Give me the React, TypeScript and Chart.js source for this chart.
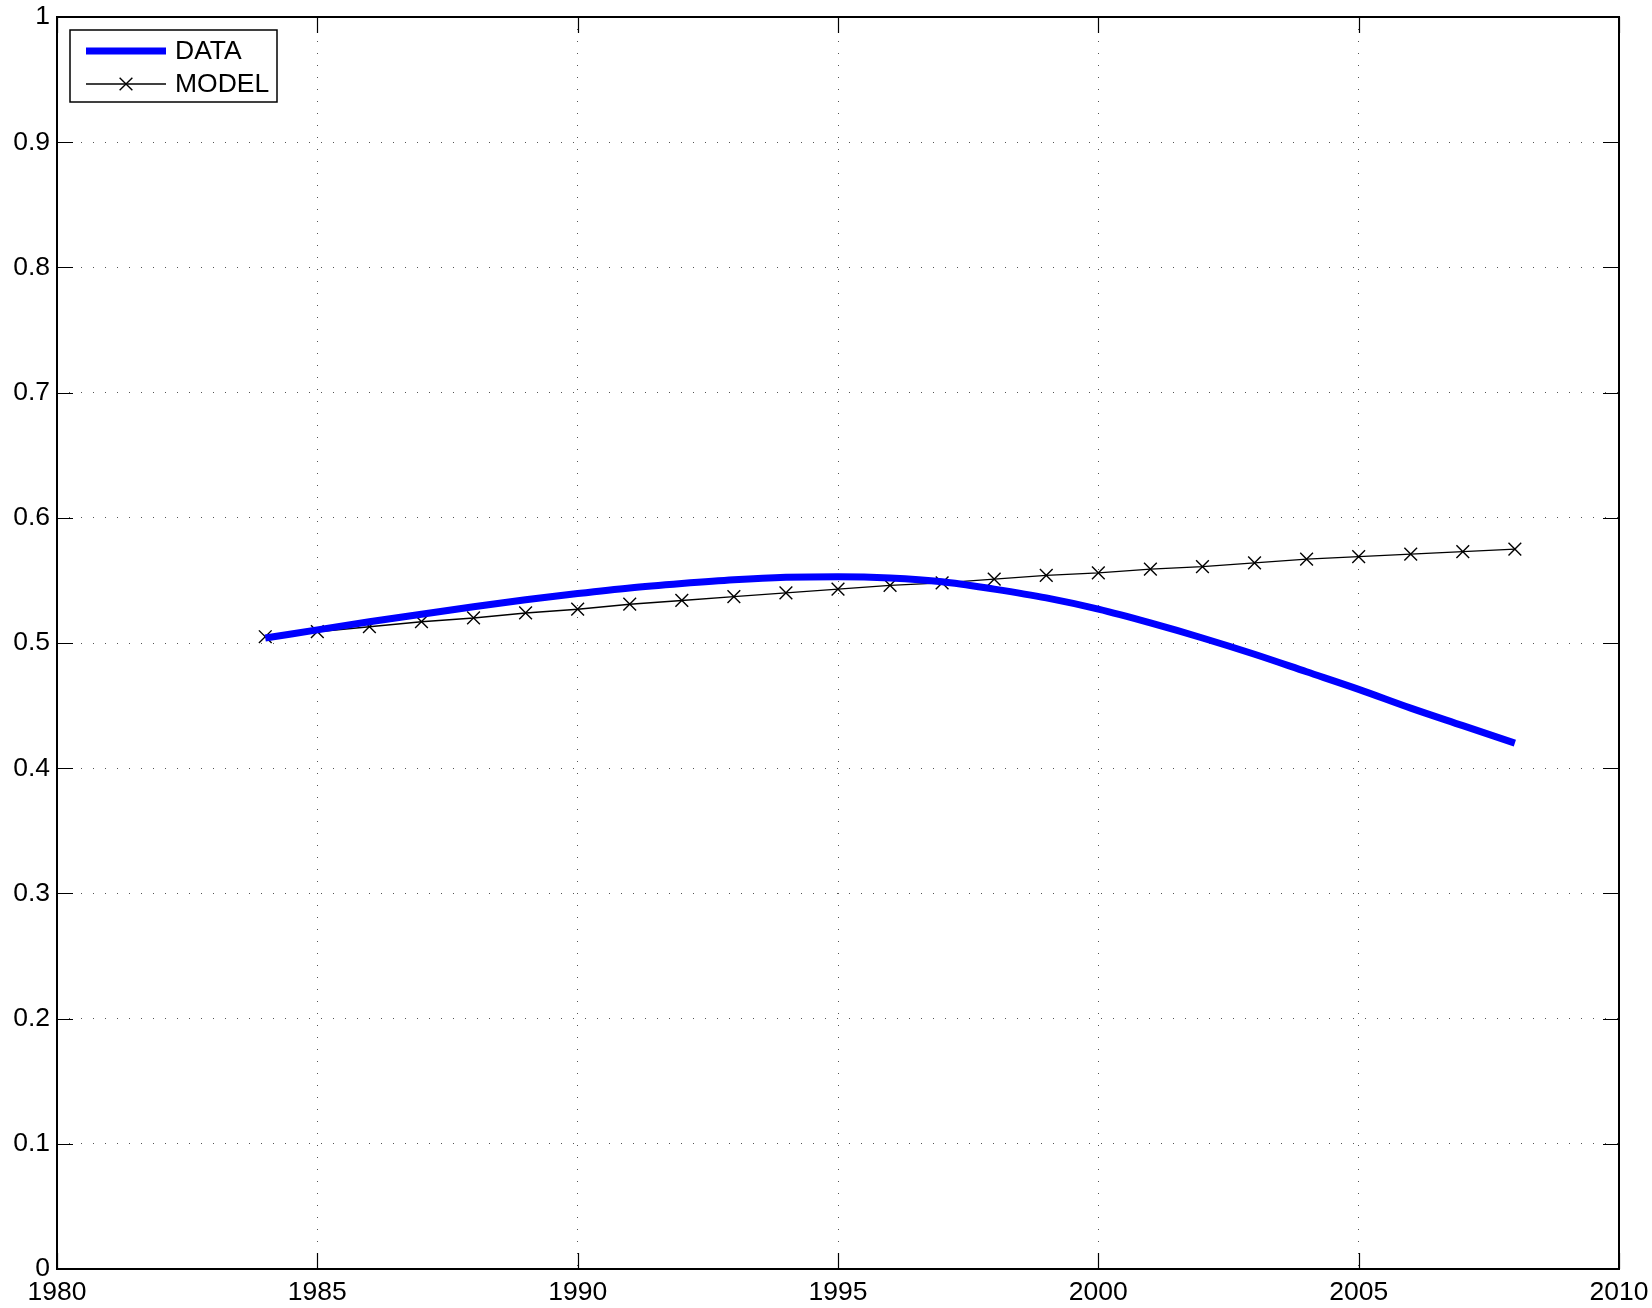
import { useEffect, useRef } from "react";
import { Chart, registerables } from "chart.js";

Chart.register(...registerables);

// Yearly values, 1984-2008
const years = [
  1984, 1985, 1986, 1987, 1988, 1989, 1990, 1991, 1992, 1993, 1994, 1995, 1996,
  1997, 1998, 1999, 2000, 2001, 2002, 2003, 2004, 2005, 2006, 2007, 2008,
];
const dataValues = [
  0.504, 0.5105, 0.517, 0.523, 0.529, 0.5345, 0.5395, 0.544, 0.5475, 0.5505,
  0.5525, 0.553, 0.552, 0.549, 0.543, 0.536, 0.527, 0.516, 0.504, 0.491, 0.477,
  0.463, 0.448, 0.434, 0.420,
];
const modelValues = [
  0.505, 0.509, 0.513, 0.517, 0.520, 0.524, 0.527, 0.531, 0.534, 0.537, 0.540,
  0.543, 0.546, 0.548, 0.551, 0.554, 0.556, 0.559, 0.561, 0.564, 0.567, 0.569,
  0.571, 0.573, 0.575,
];
const xTicks = [1980, 1985, 1990, 1995, 2000, 2005, 2010];
const yTicks = [0, 0.1, 0.2, 0.3, 0.4, 0.5, 0.6, 0.7, 0.8, 0.9, 1];

const FONT = "'Liberation Sans', Arial, Helvetica, sans-serif";
const FONT_SIZE = 26.5;
const TICK_LEN = 16;

// Axes box with inward tick marks on all four sides, plus the legend
const axesBox = {
  id: "axesBox",
  beforeDatasetsDraw(chart: any) {
    const { ctx, chartArea } = chart;
    const { left, right, top, bottom } = chartArea;
    const xs = chart.scales.x;
    const ys = chart.scales.y;
    ctx.save();
    ctx.strokeStyle = "#000";
    ctx.lineWidth = 1.2;
    ctx.beginPath();
    for (const v of xTicks) {
      const px = Math.round(xs.getPixelForValue(v)) + 0.5;
      ctx.moveTo(px, bottom);
      ctx.lineTo(px, bottom - TICK_LEN);
      ctx.moveTo(px, top);
      ctx.lineTo(px, top + TICK_LEN);
    }
    for (const v of yTicks) {
      const py = Math.round(ys.getPixelForValue(v)) + 0.5;
      ctx.moveTo(left, py);
      ctx.lineTo(left + TICK_LEN, py);
      ctx.moveTo(right, py);
      ctx.lineTo(right - TICK_LEN, py);
    }
    ctx.stroke();
    ctx.lineWidth = 2;
    ctx.strokeRect(left, top, right - left, bottom - top);
    ctx.restore();
  },
  afterDraw(chart: any) {
    const { ctx, chartArea } = chart;
    const bx = chartArea.left + 13;
    const by = chartArea.top + 13;
    const bw = 207;
    const bh = 72;
    ctx.save();
    ctx.fillStyle = "#fff";
    ctx.fillRect(bx, by, bw, bh);
    ctx.strokeStyle = "#000";
    ctx.lineWidth = 1.5;
    ctx.strokeRect(bx, by, bw, bh);
    ctx.font = `${FONT_SIZE}px ${FONT}`;
    ctx.textBaseline = "middle";
    ctx.textAlign = "left";
    const rows = [by + 21, by + 54];
    chart.data.datasets.forEach((ds: any, i: number) => {
      const y = rows[i];
      const x0 = bx + 16;
      const x1 = bx + 96;
      ctx.strokeStyle = ds.borderColor;
      ctx.lineWidth = ds.borderWidth;
      ctx.lineCap = "butt";
      ctx.beginPath();
      ctx.moveTo(x0, y);
      ctx.lineTo(x1, y);
      ctx.stroke();
      if (ds.pointRadius > 0) {
        const r = ds.pointRadius * Math.SQRT1_2;
        const cx = (x0 + x1) / 2;
        ctx.lineWidth = ds.pointBorderWidth;
        ctx.beginPath();
        ctx.moveTo(cx - r, y - r);
        ctx.lineTo(cx + r, y + r);
        ctx.moveTo(cx - r, y + r);
        ctx.lineTo(cx + r, y - r);
        ctx.stroke();
      }
      ctx.fillStyle = "#000";
      ctx.fillText(ds.label, bx + 105, y + 1);
    });
    ctx.restore();
  },
};

const zeroPadding = (s: any) => {
  s.paddingTop = 0;
  s.paddingBottom = 0;
  s.paddingLeft = 0;
  s.paddingRight = 0;
};

export default function App() {
  const canvasRef = useRef<HTMLCanvasElement | null>(null);

  useEffect(() => {
    const canvas = canvasRef.current;
    if (!canvas) return;
    const chart = new Chart(canvas, {
      type: "line",
      data: {
        datasets: [
          {
            label: "DATA",
            data: years.map((x, i) => ({ x, y: dataValues[i] })),
            borderColor: "#0000ff",
            borderWidth: 7,
            pointRadius: 0,
            cubicInterpolationMode: "monotone",
            borderCapStyle: "butt",
            borderJoinStyle: "round",
          },
          {
            label: "MODEL",
            data: years.map((x, i) => ({ x, y: modelValues[i] })),
            borderColor: "#000",
            borderWidth: 1.4,
            pointStyle: "crossRot",
            pointRadius: 9,
            pointBorderWidth: 1.4,
            pointBorderColor: "#000",
            pointBackgroundColor: "#000",
            tension: 0,
          },
        ],
      },
      options: {
        responsive: false,
        animation: false,
        devicePixelRatio: 1,
        layout: { padding: { top: 17, right: 33, bottom: 0, left: 0 } },
        plugins: {
          legend: { display: false },
          tooltip: { enabled: false },
          title: { display: false },
        },
        scales: {
          x: {
            type: "linear",
            min: 1980,
            max: 2010,
            afterBuildTicks: (s: any) => {
              s.ticks = xTicks.map((value) => ({ value }));
            },
            afterFit: (s: any) => {
              s.height = 39;
              zeroPadding(s);
            },
            grid: {
              color: "#555",
              lineWidth: 1,
              drawTicks: false,
              borderDash: [1, 11],
            } as any,
            border: { display: false, dash: [1, 11] },
            ticks: {
              autoSkip: false,
              maxRotation: 0,
              padding: 8,
              color: "#000",
              font: { family: FONT, size: FONT_SIZE },
              callback: (v: any) => String(v),
            },
          },
          y: {
            type: "linear",
            min: 0,
            max: 1,
            afterBuildTicks: (s: any) => {
              s.ticks = yTicks.map((value) => ({ value }));
            },
            afterFit: (s: any) => {
              s.width = 57;
              zeroPadding(s);
            },
            grid: {
              color: "#555",
              lineWidth: 1,
              drawTicks: false,
              borderDash: [1, 11],
            } as any,
            border: { display: false, dash: [1, 11] },
            ticks: {
              autoSkip: false,
              padding: 7,
              color: "#000",
              font: { family: FONT, size: FONT_SIZE },
              callback: (v: any) => String(Number(Number(v).toFixed(1))),
            },
          },
        },
      },
      plugins: [axesBox],
    });
    return () => chart.destroy();
  }, []);

  return (
    <div
      style={{
        position: "absolute",
        left: 0,
        top: 0,
        width: 1652,
        height: 1308,
        background: "#fff",
      }}
    >
      <canvas ref={canvasRef} width={1652} height={1308} />
    </div>
  );
}
